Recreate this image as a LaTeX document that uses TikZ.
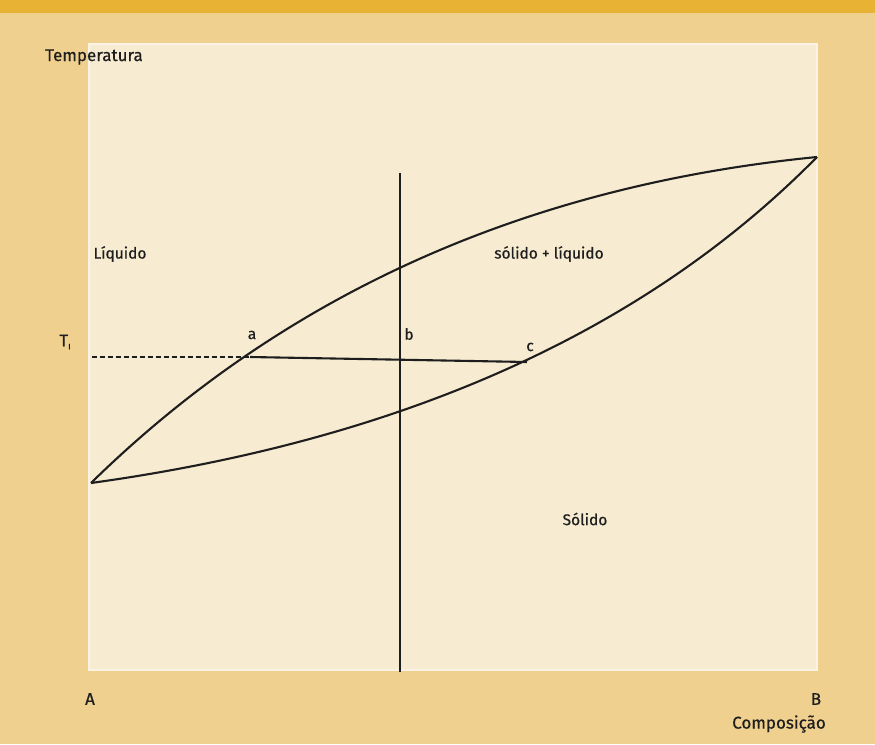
\documentclass[tikz,border=0pt]{standalone}
\usepackage{fontspec}
\setmainfont{Fira Sans}[FakeBold=0.6]
\definecolor{band}{HTML}{E8B234}
\definecolor{bg}{HTML}{F0D08E}
\definecolor{panel}{HTML}{F7EBD1}
\definecolor{panelrim}{HTML}{FBF4E4}
\definecolor{ink}{HTML}{1E1E1E}
\begin{document}
\begin{tikzpicture}[x=1pt,y=-1pt,
  curve/.style={draw=ink,line width=2.1pt},
  lbl/.style={text=ink,font=\fontsize{15.5}{17}\selectfont,inner sep=0pt},
  axlbl/.style={text=ink,font=\fontsize{17}{19}\selectfont,inner sep=0pt}]
\useasboundingbox (0,0) rectangle (875,744);
\fill[bg] (0,0) rectangle (875,744);
\fill[band] (0,0) rectangle (875,13);
\fill[panel,draw=panelrim,line width=1.5pt] (89,44) rectangle (817,670);
% key points
\coordinate (L) at (91,483);
\coordinate (R) at (817,157);
\coordinate (pa) at (250,357);
\coordinate (pc) at (527,362);
\coordinate (dstart) at (92,357);
\coordinate (vtop) at (400,173);
\coordinate (vbot) at (400,672);
% liquidus and solidus
\draw[curve] (L) .. controls (283.7,294.3) and (525.7,185.7) .. (R);
\draw[curve] (L) .. controls (403.7,439.7) and (645.7,331) .. (R);
% vertical composition line
\draw[curve] (vtop) -- (vbot);
% tie line and dashed temperature line
\draw[curve] (pa) -- (pc);
\draw[draw=ink,line width=2.1pt,dash pattern=on 5pt off 3pt] (dstart) -- (pa);
% labels
\node[axlbl] (temp) at (94,57) {Temperatura};
\node[lbl] (liq) at (120,254) {Líquido};
\node[lbl] (sl) at (549,254) {sólido + líquido};
\node[axlbl] (t1) at (65,342) {T\raisebox{-0.35ex}{\fontsize{8}{9}\selectfont I}};
\node[lbl] (la) at (252,335) {a};
\node[lbl] (lb) at (409,334) {b};
\node[lbl] (lc) at (530,347) {c};
\node[lbl] (sol) at (585,519) {Sólido};
\node[axlbl] (A) at (90,699) {A};
\node[axlbl] (B) at (816,699) {B};
\node[axlbl,anchor=east] (comp) at (826,724) {Composição};
\end{tikzpicture}
\end{document}
